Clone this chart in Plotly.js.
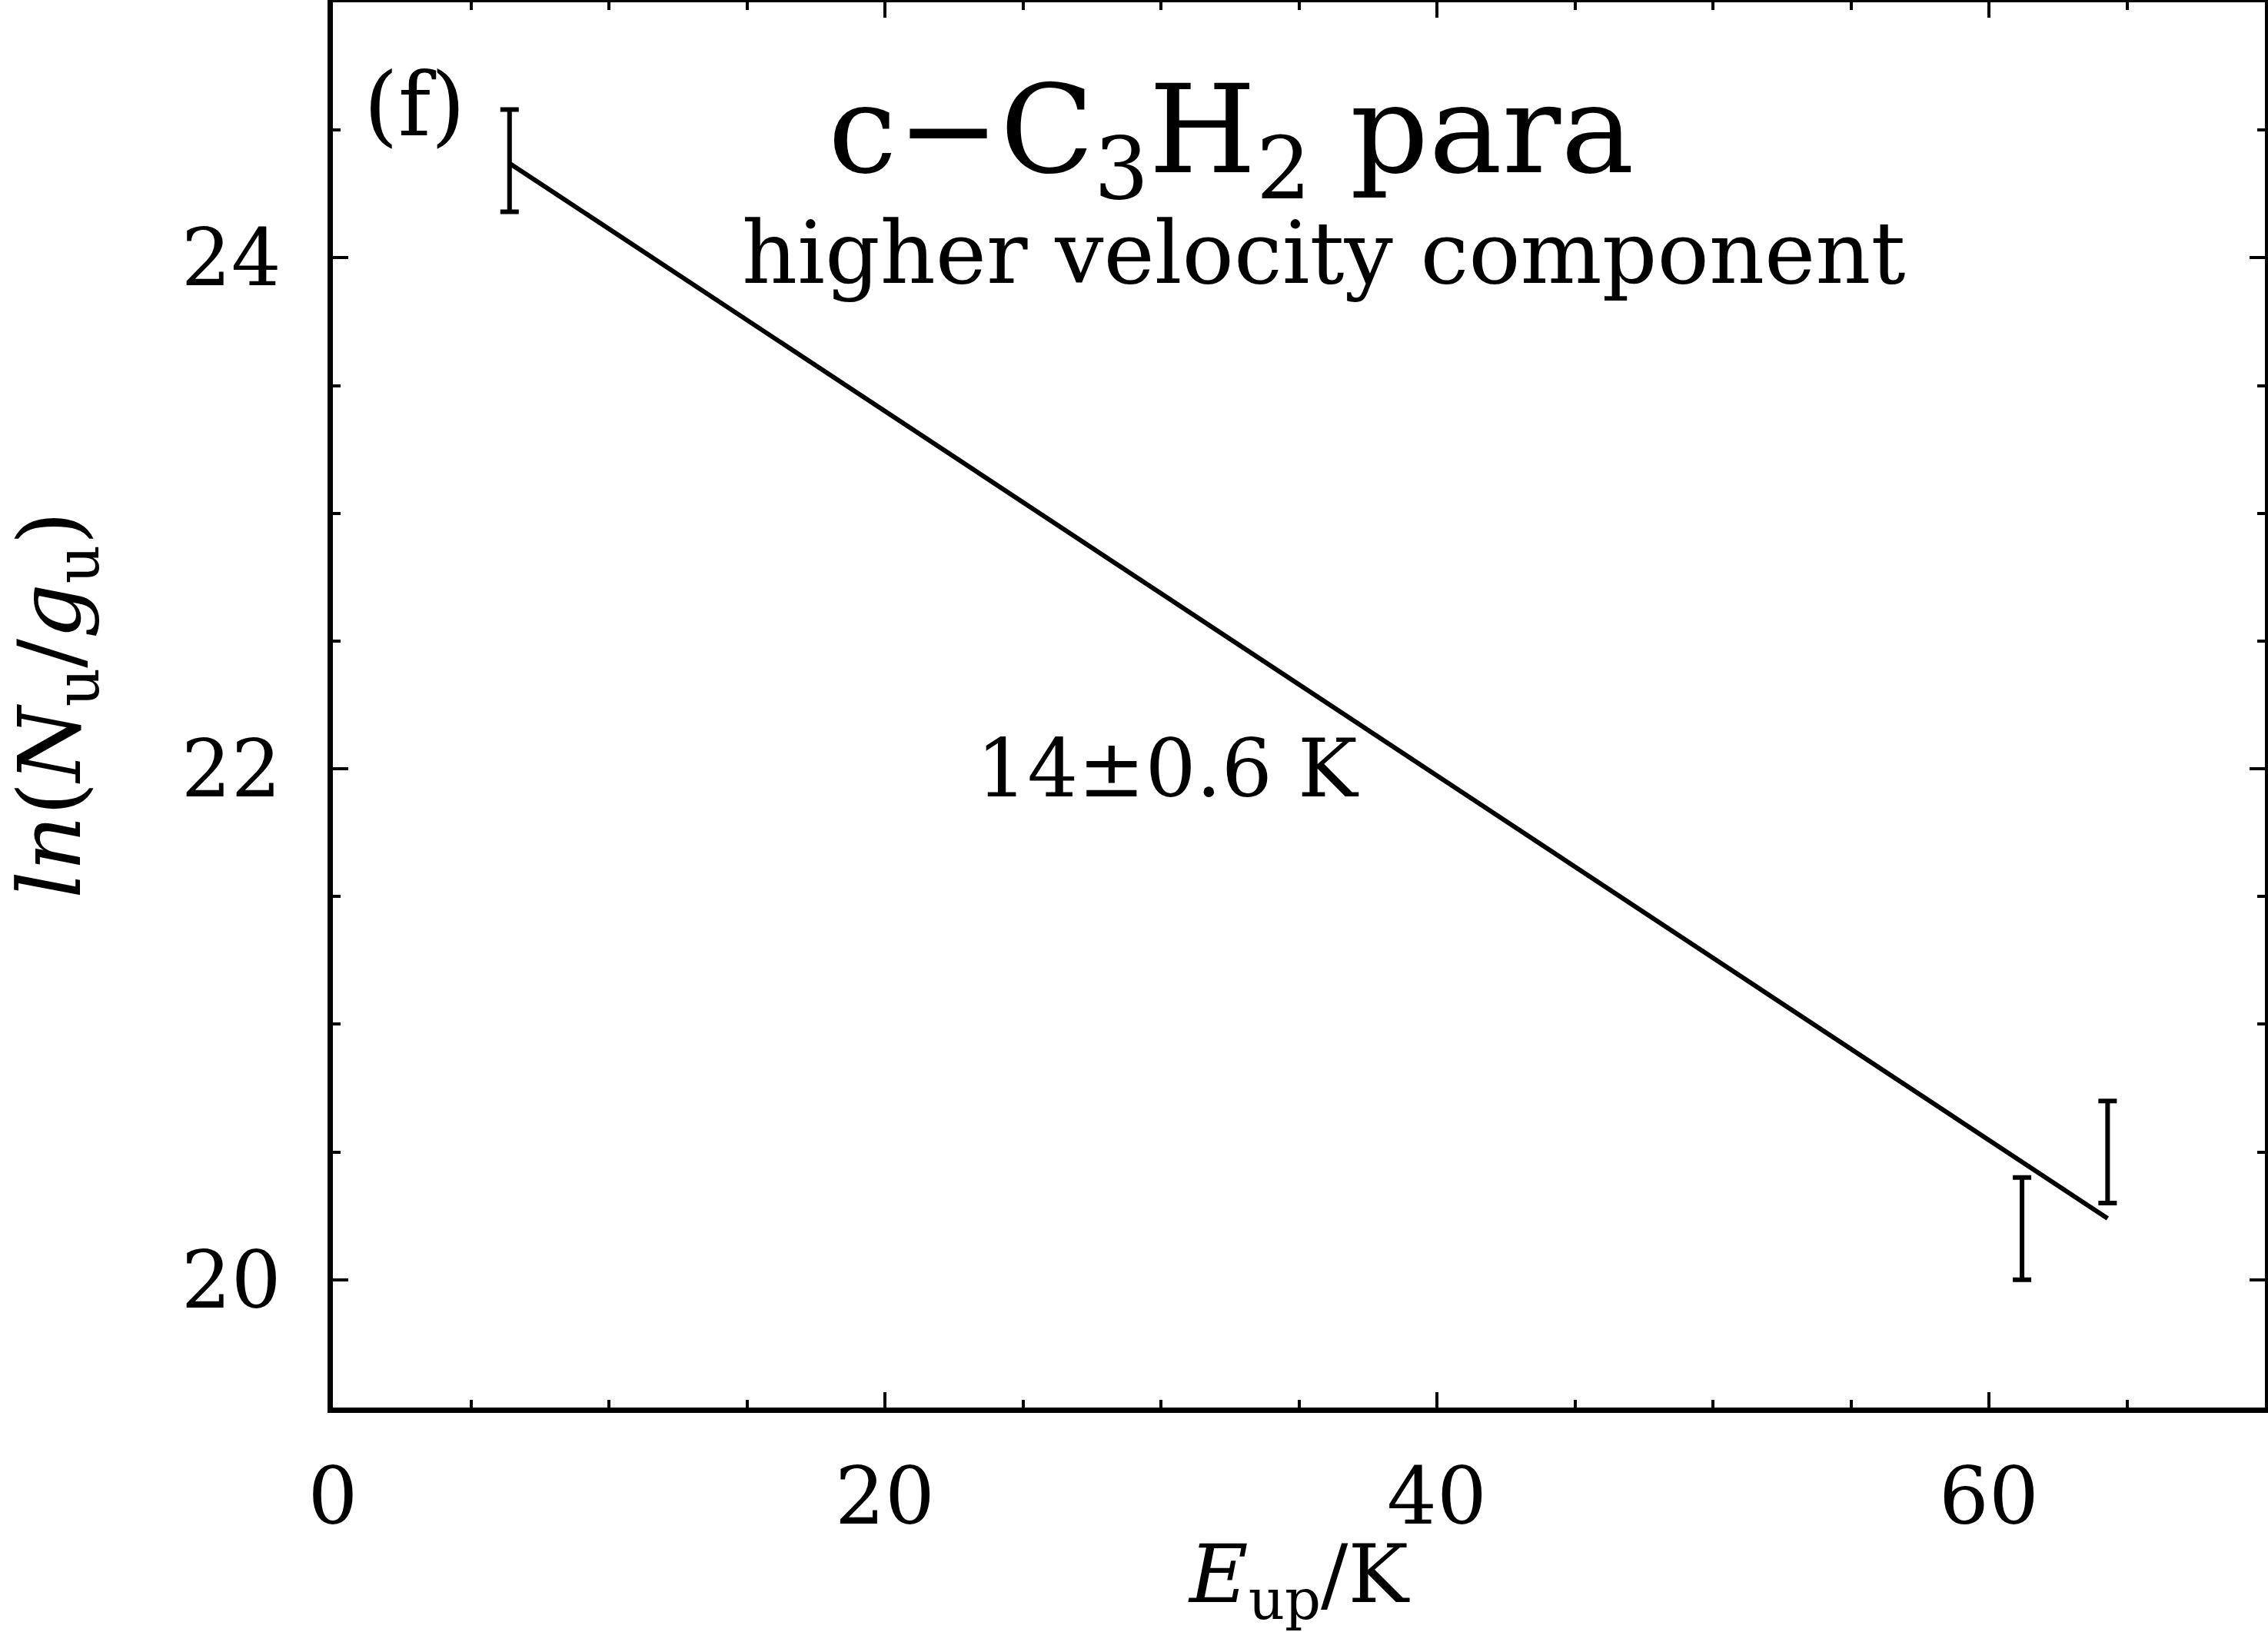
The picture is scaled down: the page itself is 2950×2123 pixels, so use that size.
<!DOCTYPE html>
<html>
<head>
<meta charset="utf-8">
<script src="https://cdn.plot.ly/plotly-3.0.1.min.js"></script>
<style>
  html, body { margin: 0; padding: 0; background: #ffffff; }
  #chart { width: 2950px; height: 2123px; }
</style>
</head>
<body>
<div id="chart"></div>
<script>
// ---- data ----
const upperEnergyK = [6.4, 61.2, 64.3];          // E_up / K
const lnNuOverGu   = [24.38, 20.20, 20.50];       // ln(N_u/g_u)
const lnNuErr      = [0.20, 0.20, 0.20];          // error bar half-lengths
const fitEnergyK   = [6.4, 64.3];                 // fitted line endpoints (x)
const fitLnNu      = [24.37, 20.24];              // fitted line endpoints (y)
const xTickVals    = [0, 20, 40, 60];
const yTickVals    = [20, 22, 24];

const panelLabel   = '(f)';
const speciesLabel = 'c\u2212C<sub>3</sub>H<sub>2</sub> para';
const compLabel    = 'higher velocity component';
const tempLabel    = '14\u00b10.6 K';

const FONT = 'DejaVu Serif, Liberation Serif, serif';

const traces = [
  {
    x: fitEnergyK, y: fitLnNu,
    type: 'scatter', mode: 'lines',
    line: { color: '#000', width: 6 },
    hoverinfo: 'skip', showlegend: false
  },
  {
    x: upperEnergyK, y: lnNuOverGu,
    type: 'scatter', mode: 'markers',
    marker: { size: 1, color: 'rgba(0,0,0,0)' },
    error_y: { type: 'data', array: lnNuErr, visible: true, color: '#000', thickness: 6, width: 12 },
    showlegend: false
  }
];

const axisCommon = {
  showgrid: false, zeroline: false,
  showline: true, linecolor: '#000', linewidth: 7,
  mirror: 'ticks',
  ticks: 'inside', tickcolor: '#000', tickwidth: 4, ticklen: 20,
  tickfont: { family: FONT, size: 102, color: '#000' }
};

const layout = {
  width: 2950, height: 2123,
  margin: { l: 433, r: 4, t: 3, b: 292 },
  paper_bgcolor: '#fff', plot_bgcolor: '#fff',
  showlegend: false,
  font: { family: FONT, color: '#000' },
  xaxis: Object.assign({}, axisCommon, {
    range: [0, 70],
    tickmode: 'array', tickvals: xTickVals, ticktext: xTickVals.map(String),
    ticklabelstandoff: 22,
    minor: { tickmode: 'linear', tick0: 0, dtick: 5, ticks: 'inside', ticklen: 10, tickwidth: 4, tickcolor: '#000' },
    title: { text: '<i>E</i><sub>up</sub>/K', font: { family: FONT, size: 105, color: '#000' }, standoff: 40 }
  }),
  yaxis: Object.assign({}, axisCommon, {
    range: [19.5, 25],
    tickmode: 'array', tickvals: yTickVals, ticktext: yTickVals.map(String),
    ticklabelstandoff: 40,
    minor: { tickmode: 'linear', tick0: 0, dtick: 0.5, ticks: 'inside', ticklen: 10, tickwidth: 4, tickcolor: '#000' },
    title: { text: '<i>ln</i>(<i>N</i><sub>u</sub>/<i>g</i><sub>u</sub>)', font: { family: FONT, size: 112, color: '#000' }, standoff: 125 }
  }),
  annotations: [
    { text: panelLabel, x: 2.95, y: 24.60, xref: 'x', yref: 'y', showarrow: false,
      xanchor: 'center', yanchor: 'middle', font: { family: FONT, size: 115, color: '#000' } },
    { text: speciesLabel, x: 32.56, y: 24.47, xref: 'x', yref: 'y', showarrow: false,
      xanchor: 'center', yanchor: 'middle', font: { family: FONT, size: 160, color: '#000' } },
    { text: compLabel, x: 35.88, y: 24.02, xref: 'x', yref: 'y', showarrow: false,
      xanchor: 'center', yanchor: 'middle', font: { family: FONT, size: 112, color: '#000' } },
    { text: tempLabel, x: 30.25, y: 22.0, xref: 'x', yref: 'y', showarrow: false,
      xanchor: 'center', yanchor: 'middle', font: { family: FONT, size: 104, color: '#000' } }
  ]
};

Plotly.newPlot('chart', traces, layout, { displayModeBar: false, staticPlot: true });
</script>
</body>
</html>
